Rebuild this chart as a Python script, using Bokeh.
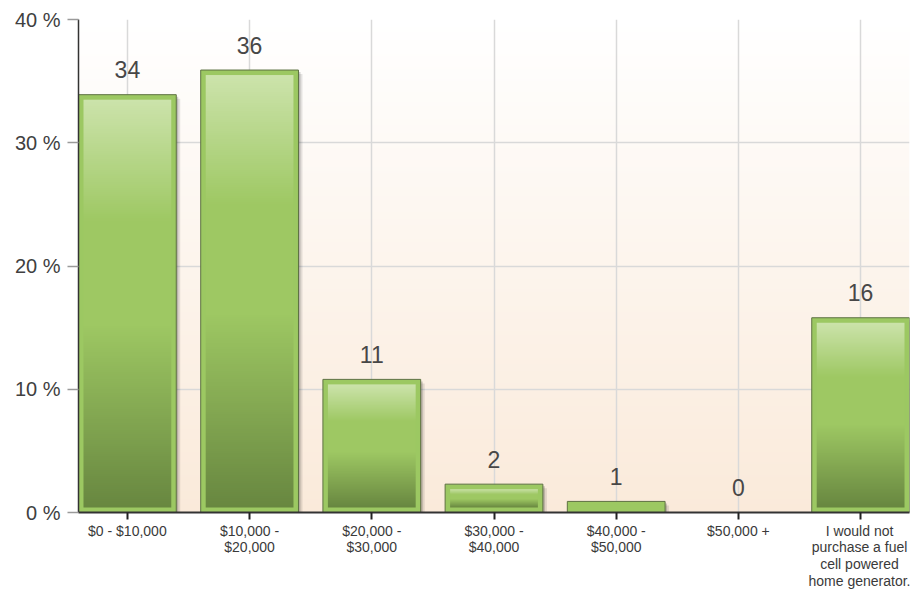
import numpy as np
from bokeh.plotting import figure
from bokeh.models import Range1d, FixedTicker
from bokeh.core.properties import value
from bokeh.embed import file_html
from bokeh.resources import INLINE

# ---- data ----
categories = [
    "$0 - $10,000",
    "$10,000 -\n$20,000",
    "$20,000 -\n$30,000",
    "$30,000 -\n$40,000",
    "$40,000 -\n$50,000",
    "$50,000 +",
    "I would not\npurchase a fuel\ncell powered\nhome generator.",
]
percents = [33.9, 35.9, 10.8, 2.3, 0.9, 0.0, 15.8]
value_labels = ["34", "36", "11", "2", "1", "0", "16"]
y_ticks = [0, 10, 20, 30, 40]
y_tick_labels = ["0 %", "10 %", "20 %", "30 %", "40 %"]

# ---- layout ----
W, H = 910, 592
ML, MR, MT, MB = 78, 1, 19, 80
frame_w = W - ML - MR
frame_h = H - MT - MB
n = len(categories)
xs = list(range(n))
half = 0.4
x0, x1 = -half, (n - 1) + half
y0, y1 = y_ticks[0], y_ticks[-1]
px_x = (x1 - x0) / frame_w
px_y = (y1 - y0) / frame_h

p = figure(width=W, height=H, x_range=Range1d(x0, x1), y_range=Range1d(y0, y1),
           output_backend="svg", toolbar_location=None,
           min_border_left=ML, min_border_right=MR, min_border_top=MT, min_border_bottom=MB)
p.outline_line_color = None
p.background_fill_color = "white"
p.border_fill_color = "white"


def to_img(rows):
    """rows: list of (r,g,b) bottom->top; returns uint32 image (nrows x 1)."""
    a = np.zeros((len(rows), 1, 4), dtype=np.uint8)
    for k, c in enumerate(rows):
        a[k, 0, 0:3] = c
        a[k, 0, 3] = 255
    return a.view(dtype=np.uint32).reshape((len(rows), 1))


def lerp(c1, c2, t):
    return tuple(int(round(c1[j] + (c2[j] - c1[j]) * t)) for j in range(3))


# background gradient (white top -> peach bottom)
NR = 256
bg_top = (255, 255, 255)
bg_bot = (250, 234, 218)
bg_rows = [lerp(bg_bot, bg_top, k / (NR - 1)) for k in range(NR)]
p.image_rgba(image=[to_img(bg_rows)], x=x0, y=y0, dw=x1 - x0, dh=y1 - y0, level="image")

# bar gradient colours
light = (204, 227, 171)
mid = (158, 200, 99)
dark = (104, 135, 64)


def bar_rows(nr):
    rows = []
    for k in range(nr):
        t = 1 - k / (nr - 1)  # 0 at top, 1 at bottom
        if t < 0.3:
            c = lerp(light, mid, t / 0.3)
        elif t < 0.55:
            c = mid
        else:
            c = lerp(mid, dark, (t - 0.55) / 0.45)
        rows.append(c)
    return rows


# shadows
for off, alpha in ((4, 0.10), (2, 0.18)):
    p.quad(left=[x - half + off * px_x for x in xs], right=[x + half + off * px_x for x in xs],
           bottom=[y0] * n, top=[max(v - off * px_y, 0) for v in percents],
           fill_color="black", fill_alpha=alpha, line_color=None)

# outer bars
p.quad(left=[x - half for x in xs], right=[x + half for x in xs],
       bottom=[y0] * n, top=percents,
       fill_color="#9cc862", line_color="#5d7142", line_width=1)

# inner gradient
inset = 5
imgs, ix, iy, idw, idh = [], [], [], [], []
for x, v in zip(xs, percents):
    bottom = y0 + inset * px_y
    top = v - inset * px_y
    if top - bottom > 2 * px_y:
        imgs.append(to_img(bar_rows(200)))
        ix.append(x - half + inset * px_x)
        iy.append(bottom)
        idw.append(2 * half - 2 * inset * px_x)
        idh.append(top - bottom)
p.image_rgba(image=imgs, x=ix, y=iy, dw=idw, dh=idh)

# value labels
p.text(x=xs, y=percents, text=value_labels, text_align="center", text_baseline="alphabetic",
       y_offset=-25, text_font=value("Liberation Sans"), text_font_size="23px",
       text_color="#474747")

# grid
p.xgrid.ticker = FixedTicker(ticks=xs)
p.ygrid.ticker = FixedTicker(ticks=y_ticks)
for g in (p.xgrid, p.ygrid):
    g.grid_line_color = "#d9d9d9"
    g.grid_line_width = 1.5

# x axis
xa = p.xaxis[0]
xa.ticker = FixedTicker(ticks=xs)
xa.major_label_overrides = {i: c for i, c in enumerate(categories)}
xa.axis_line_color = "#333333"
xa.axis_line_width = 2
xa.major_tick_line_color = "#222222"
xa.major_tick_line_width = 2
xa.major_tick_out = 7
xa.major_tick_in = 0
xa.minor_tick_line_color = None
xa.major_label_standoff = 3
xa.major_label_text_font = "Liberation Sans"
xa.major_label_text_font_size = "14px"
xa.major_label_text_line_height = 1.05
xa.major_label_text_color = "#3a3a3a"

# y axis
ya = p.yaxis[0]
ya.ticker = FixedTicker(ticks=y_ticks)
ya.major_label_overrides = {t: l for t, l in zip(y_ticks, y_tick_labels)}
ya.axis_line_color = "#333333"
ya.axis_line_width = 1.5
ya.major_tick_line_color = "#9a9a9a"
ya.major_tick_line_width = 1.5
ya.major_tick_out = 11
ya.major_tick_in = 0
ya.minor_tick_line_color = None
ya.major_label_standoff = 7
ya.major_label_text_font = "Liberation Sans"
ya.major_label_text_font_size = "20px"
ya.major_label_text_color = "#404040"

open("out.html", "w").write(file_html(p, INLINE))
